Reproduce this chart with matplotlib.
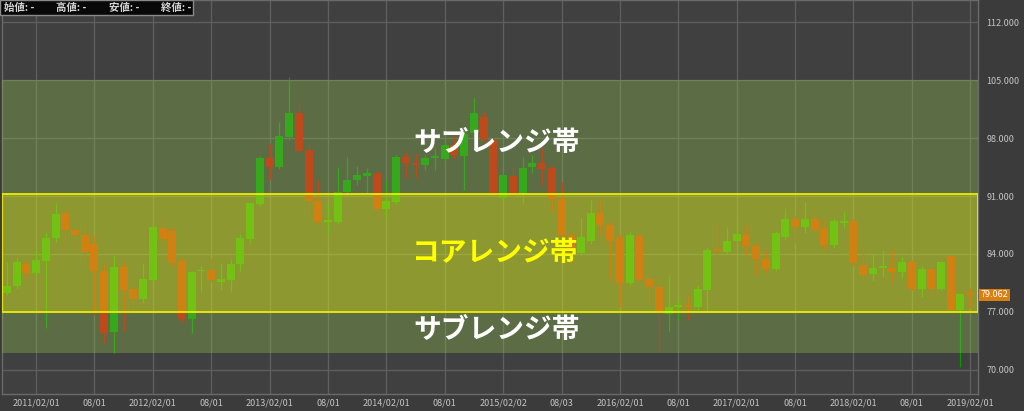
import matplotlib
matplotlib.use('Agg')
import matplotlib.pyplot as plt
from matplotlib.patches import Rectangle
import numpy as np

plt.rcParams['font.family'] = ['Noto Sans CJK JP', 'DejaVu Sans']

# monthly candles, 2010/11 .. 2019/02
opens = [79.3, 80.1, 82.8, 81.7, 83.2, 85.9, 88.9, 86.9, 86.3, 85.2,
         81.9, 74.6, 82.4, 79.8, 78.6, 80.9, 87.1, 86.8, 83.2, 76.1,
         81.9, 82.1, 80.6, 80.9, 82.8, 85.8, 90.0, 95.6, 94.5, 98.1,
         101.0, 96.5, 90.4, 87.9, 87.9, 91.5, 92.9, 93.4, 93.8, 89.4,
         90.3, 95.7, 95.0, 94.7, 95.6, 95.5, 97.2, 95.8, 98.6, 100.5,
         97.8, 90.8, 93.4, 91.4, 94.5, 95.0, 94.4, 90.6, 86.3, 84.1,
         85.6, 88.9, 87.5, 85.9, 80.5, 86.2, 81.0, 80.0, 76.8, 77.6,
         77.7, 77.6, 79.7, 84.5, 84.3, 85.6, 86.3, 85.0, 83.4, 82.2,
         86.0, 88.2, 87.3, 88.2, 87.0, 85.1, 87.8, 88.0, 82.7, 81.6,
         82.3, 82.3, 81.8, 83.0, 79.8, 82.2, 79.8, 83.8, 77.3, 79.15]
highs = [83.0, 83.5, 83.3, 84.5, 86.7, 90.0, 89.3, 87.5, 87.7, 86.2,
         82.9, 83.9, 83.0, 80.5, 82.9, 87.5, 88.6, 87.2, 83.6, 82.0,
         82.6, 83.5, 82.9, 83.3, 86.4, 90.3, 95.8, 97.4, 99.9, 105.4,
         102.3, 97.3, 93.1, 90.0, 94.5, 95.7, 94.6, 94.4, 94.0, 92.9,
         95.9, 96.4, 96.1, 96.0, 96.8, 98.1, 98.2, 98.8, 102.8, 101.3,
         98.1, 93.6, 94.5, 95.7, 95.9, 96.8, 94.8, 92.7, 86.6, 88.3,
         90.5, 90.5, 88.0, 86.4, 86.7, 86.6, 81.5, 81.5, 81.3, 78.7,
         79.1, 80.3, 84.8, 87.5, 87.1, 88.1, 87.5, 85.3, 84.5, 86.8,
         89.6, 88.7, 90.3, 89.1, 88.1, 88.3, 89.1, 88.2, 84.6, 84.0,
         84.5, 84.6, 83.8, 83.3, 82.5, 82.3, 83.2, 83.9, 79.3, 79.9]
lows = [79.1, 79.8, 81.1, 81.5, 75.1, 85.5, 84.2, 84.1, 83.2, 76.6,
        73.3, 72.1, 74.7, 77.0, 78.1, 80.5, 84.6, 82.4, 75.7, 74.5,
        79.4, 80.6, 79.7, 79.4, 82.0, 85.3, 89.8, 93.1, 94.2, 97.8,
        96.1, 89.0, 87.6, 86.4, 87.6, 90.9, 92.3, 91.2, 88.5, 88.3,
        90.0, 93.2, 93.2, 94.1, 94.1, 95.0, 95.5, 91.7, 97.8, 97.4,
        91.0, 90.3, 91.0, 90.2, 93.8, 92.3, 89.1, 84.8, 82.3, 83.8,
        85.2, 86.3, 80.9, 77.6, 80.3, 80.6, 78.1, 72.2, 74.6, 76.0,
        76.0, 77.2, 77.0, 83.8, 84.0, 85.4, 83.9, 81.5, 81.8, 81.9,
        85.7, 85.3, 86.5, 86.6, 84.4, 84.7, 87.1, 82.5, 80.5, 80.7,
        81.2, 80.6, 81.1, 79.6, 78.8, 78.6, 79.6, 77.2, 70.4, 77.5]
closes = [80.1, 83.0, 81.7, 83.3, 85.9, 88.8, 86.9, 86.3, 84.2, 81.9,
          74.5, 82.4, 79.7, 78.6, 81.0, 87.3, 85.8, 83.0, 76.1, 81.8,
          82.1, 80.9, 81.0, 82.8, 85.9, 90.1, 95.6, 94.5, 98.2, 101.0,
          96.4, 90.4, 87.9, 88.0, 91.5, 92.9, 93.5, 93.8, 89.4, 90.4,
          95.7, 95.0, 94.7, 95.6, 95.7, 97.2, 95.9, 98.5, 101.0, 97.9,
          91.4, 93.5, 91.4, 94.4, 95.0, 94.3, 90.6, 86.3, 84.2, 86.0,
          88.9, 87.5, 85.6, 80.5, 86.3, 80.9, 80.0, 77.0, 77.6, 77.9,
          77.6, 79.8, 84.5, 84.4, 85.6, 86.4, 85.0, 83.4, 82.2, 86.5,
          88.2, 87.3, 88.2, 86.9, 85.1, 88.0, 88.0, 82.9, 81.5, 82.3,
          82.4, 81.8, 83.0, 79.8, 82.2, 79.8, 83.0, 77.3, 79.2, 79.062]

tick_pos = [3, 9, 15, 21, 27, 33, 39, 45, 51, 57, 63, 69, 75, 81, 87, 93, 99]
tick_labels = ['2011/02/01', '08/01', '2012/02/01', '08/01', '2013/02/01', '08/01',
               '2014/02/01', '08/01', '2015/02/02', '08/03', '2016/02/01', '08/01',
               '2017/02/01', '08/01', '2018/02/01', '08/01', '2019/02/01']
y_ticks = [70, 77, 84, 91, 98, 105, 112]

sub_band = (72, 105)
core_band = (77, 91.2)
last_price = 79.062

o = np.array(opens)
h = np.array(highs)
l = np.array(lows)
c = np.array(closes)
x = np.arange(len(o))
up = c >= o
colors = np.where(up, '#059c00', '#d40c00')

fig = plt.figure(figsize=(10.24, 4.11), dpi=100, facecolor='#3b3b3b')
ax = fig.add_axes([2 / 1024, 17 / 411, 976 / 1024, 394 / 411])
ax.set_facecolor('#404040')

ax.vlines(x, l, h, colors=colors, linewidth=0.9, zorder=2)
ax.bar(x, np.maximum(np.abs(c - o), 0.2), bottom=np.minimum(o, c), width=0.82,
       color=colors, zorder=2.5)

# translucent bands over the candles
ax.axhspan(*sub_band, facecolor='#94c250', alpha=0.34, zorder=3, lw=0)
ax.axhspan(*core_band, facecolor='#ffff00', alpha=0.3, zorder=3, lw=0)
ax.axhspan(*core_band, facecolor='none', edgecolor='#ecec00', lw=1.3, zorder=4)

ax.set_xlim(-0.5, 99.8)
ax.set_ylim(67.1, 114.66)
ax.set_xticks(tick_pos)
ax.set_xticklabels(tick_labels)
ax.set_yticks(y_ticks)
ax.set_yticklabels(['%.3f' % v for v in y_ticks])
ax.yaxis.tick_right()
ax.tick_params(axis='both', length=0, colors='#c4c4c4', labelsize=6.5)
ax.tick_params(axis='x', pad=3)
ax.tick_params(axis='y', pad=6)
ax.grid(True, color='#5e5e5e', linewidth=1, zorder=1)
ax.set_axisbelow(True)
for s in ax.spines.values():
    s.set_color('#6a6a6a')
    s.set_linewidth(1)

ax.text(0.507, 0.637, 'サブレンジ帯', transform=ax.transAxes, color='white',
        fontsize=20, fontweight='bold', ha='center', va='center', zorder=5)
ax.text(0.504, 0.358, 'コアレンジ帯', transform=ax.transAxes, color='#ffff00',
        fontsize=20, fontweight='bold', ha='center', va='center', zorder=5)
ax.text(0.507, 0.162, 'サブレンジ帯', transform=ax.transAxes, color='white',
        fontsize=20, fontweight='bold', ha='center', va='center', zorder=5)

ax.annotate('%.3f' % last_price, xy=(1, last_price), xycoords=('axes fraction', 'data'),
            xytext=(2, 0), textcoords='offset points', ha='left', va='center',
            color='white', fontsize=6.5,
            bbox=dict(boxstyle='square,pad=0.2', facecolor='#d98010', edgecolor='none'))

# info box top-left
fig.patches.append(Rectangle((0, 1 - 15 / 411), 193 / 1024, 15 / 411, transform=fig.transFigure,
                             facecolor='#080808', edgecolor='#8a8a8a', lw=1, zorder=10))
for px, lab in [(4, '始値: -'), (56, '高値: -'), (109, '安値: -'), (161, '終値: -')]:
    fig.text(px / 1024, 1 - 8 / 411, lab, color='#d4d4d4', fontsize=7.5,
             fontweight='bold', ha='left', va='center', zorder=11)

fig.savefig('out.png', dpi=100, facecolor=fig.get_facecolor())
